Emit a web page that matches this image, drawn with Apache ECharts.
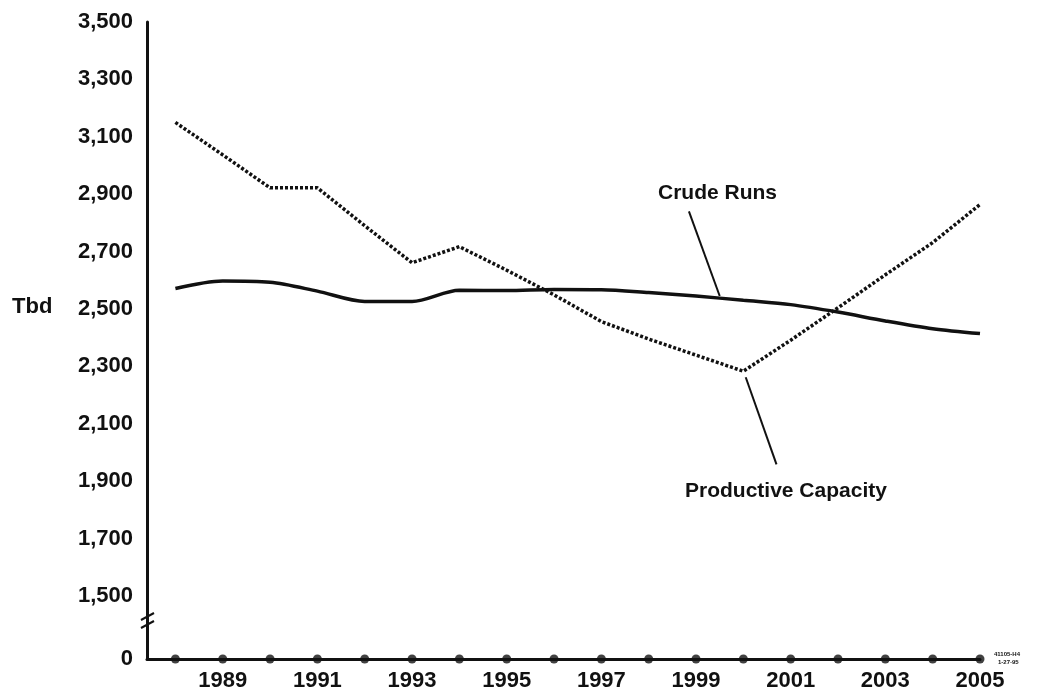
<!DOCTYPE html>
<html>
<head>
<meta charset="utf-8">
<script src="https://cdn.jsdelivr.net/npm/echarts@6/dist/echarts.min.js"></script>
<style>
html,body{margin:0;padding:0;background:#fff;}
#chart{width:1042px;height:692px;}
</style>
</head>
<body>
<div id="chart"></div>
<script>
const years = [1988,1989,1990,1991,1992,1993,1994,1995,1996,1997,1998,1999,2000,2001,2002,2003,2004,2005];
const crudeRuns = [2571,2597,2593,2562,2526,2526,2565,2564,2568,2567,2557,2545,2530,2515,2489,2458,2431,2414];
const productiveCapacity = [3150,3037,2922,2922,2790,2661,2717,2635,2549,2456,2395,2339,2283,2391,2504,2619,2731,2864];
const xTickLabels = [1989,1991,1993,1995,1997,1999,2001,2003,2005];
const yTickValues = [1280,1500,1700,1900,2100,2300,2500,2700,2900,3100,3300,3500];
const yBase = 1280; // shown as "0" (broken axis)

const FONT = '"Liberation Sans", Arial, Helvetica, sans-serif';
const chart = echarts.init(document.getElementById('chart'), null, {renderer: 'canvas'});

chart.setOption({
  animation: false,
  backgroundColor: '#fff',
  grid: {left: 147, right: 62, top: 22, bottom: 32, containLabel: false},
  xAxis: {
    type: 'value', min: 1987.4, max: 2005,
    axisLine: {show: true, lineStyle: {color: '#111', width: 3}},
    axisTick: {show: false},
    splitLine: {show: false},
    axisLabel: {
      customValues: xTickLabels, margin: 11,
      color: '#111', fontFamily: FONT, fontWeight: 'bold', fontSize: 22,
      formatter: v => String(v)
    }
  },
  yAxis: {
    type: 'value', min: yBase, max: 3500,
    axisLine: {show: true, lineStyle: {color: '#111', width: 3}},
    axisTick: {show: false},
    splitLine: {show: false},
    axisLabel: {
      customValues: yTickValues, margin: 14,
      color: '#111', fontFamily: FONT, fontWeight: 'bold', fontSize: 22,
      formatter: v => v === yBase ? '0' : v.toLocaleString('en-US')
    }
  },
  series: [
    {
      name: 'Axis markers', type: 'scatter',
      data: years.map(y => [y, yBase]),
      symbol: 'circle', symbolSize: 9, clip: false,
      itemStyle: {color: '#111'}, silent: true, z: 5
    },
    {
      name: 'Crude Runs', type: 'line',
      data: years.map((y, i) => [y, crudeRuns[i]]),
      showSymbol: false, smooth: 0.3,
      lineStyle: {color: '#111', width: 3.5},
      markLine: {
        silent: true, symbol: ['none', 'none'],
        lineStyle: {color: '#111', width: 2, type: 'solid'},
        label: {show: false},
        data: [[{coord: [1998.85, 2840]}, {coord: [1999.5, 2545]}]]
      }
    },
    {
      name: 'Productive Capacity', type: 'line',
      data: years.map((y, i) => [y, productiveCapacity[i]]),
      showSymbol: false,
      lineStyle: {color: '#111', width: 3.5, type: [3, 2]},
      markLine: {
        silent: true, symbol: ['none', 'none'],
        lineStyle: {color: '#111', width: 2, type: 'solid'},
        label: {show: false},
        data: [[{coord: [2000.05, 2262]}, {coord: [2000.7, 1958]}]]
      }
    }
  ],
  graphic: [
    {type: 'text', left: 658, top: 183, style: {text: 'Crude Runs', fill: '#111', font: 'bold 21px ' + FONT}},
    {type: 'text', left: 685, top: 481, style: {text: 'Productive Capacity', fill: '#111', font: 'bold 21px ' + FONT}},
    {type: 'text', left: 12, top: 296, style: {text: 'Tbd', fill: '#111', font: 'bold 22px ' + FONT}},
    {type: 'line', shape: {x1: 141, y1: 620, x2: 154, y2: 613}, style: {stroke: '#111', lineWidth: 2}},
    {type: 'line', shape: {x1: 141, y1: 628, x2: 154, y2: 621}, style: {stroke: '#111', lineWidth: 2}},
    {type: 'text', left: 994, top: 651, style: {text: '41105-H4', fill: '#111', font: 'bold 6px ' + FONT}},
    {type: 'text', left: 998, top: 659, style: {text: '1-27-95', fill: '#111', font: 'bold 6px ' + FONT}}
  ]
});
</script>
</body>
</html>
